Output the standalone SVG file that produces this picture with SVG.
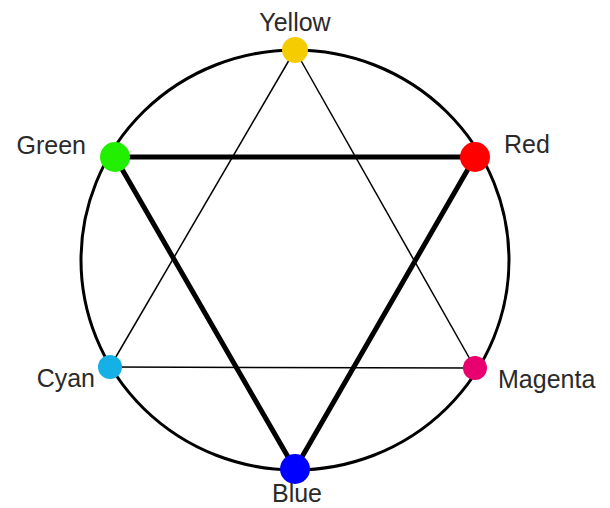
<svg xmlns="http://www.w3.org/2000/svg" width="610" height="508" viewBox="0 0 610 508">
<style>
.lbl{font-family:"Liberation Sans",Arial,sans-serif;font-size:25px;fill:#2a2a2a}
.thin{stroke:#000;stroke-width:1.5;fill:none}
.thick{stroke:#000;stroke-width:5;fill:none;stroke-linecap:round}
</style>
<rect width="610" height="508" fill="#fff"/>
<ellipse cx="295" cy="260" rx="214" ry="210" fill="none" stroke="#000" stroke-width="3"/>
<g id="connectors">
<line class="thin" x1="295" y1="50" x2="110" y2="367"/>
<line class="thin" x1="295" y1="50" x2="475" y2="368"/>
<line class="thin" x1="110" y1="367" x2="475" y2="368"/>
<line class="thick" x1="115" y1="157" x2="475" y2="157"/>
<line class="thick" x1="115" y1="157" x2="295" y2="469"/>
<line class="thick" x1="475" y1="157" x2="295" y2="469"/>
</g>
<g id="yellow"><circle cx="295" cy="50" r="13" fill="#f5cc00"/><text class="lbl" x="295" y="31" text-anchor="middle">Yellow</text></g>
<g id="green"><circle cx="115" cy="157" r="15" fill="#22ee00"/><text class="lbl" x="86" y="154" text-anchor="end">Green</text></g>
<g id="red"><circle cx="475" cy="157" r="15" fill="#ff0000"/><text class="lbl" x="504" y="153">Red</text></g>
<g id="cyan"><circle cx="110" cy="367" r="12" fill="#15b0e6"/><text class="lbl" x="95" y="387" text-anchor="end">Cyan</text></g>
<g id="magenta"><circle cx="475" cy="368" r="12" fill="#e8006e"/><text class="lbl" x="498" y="388">Magenta</text></g>
<g id="blue"><circle cx="295" cy="469" r="15" fill="#0000ff"/><text class="lbl" x="297" y="502" text-anchor="middle">Blue</text></g>
</svg>
